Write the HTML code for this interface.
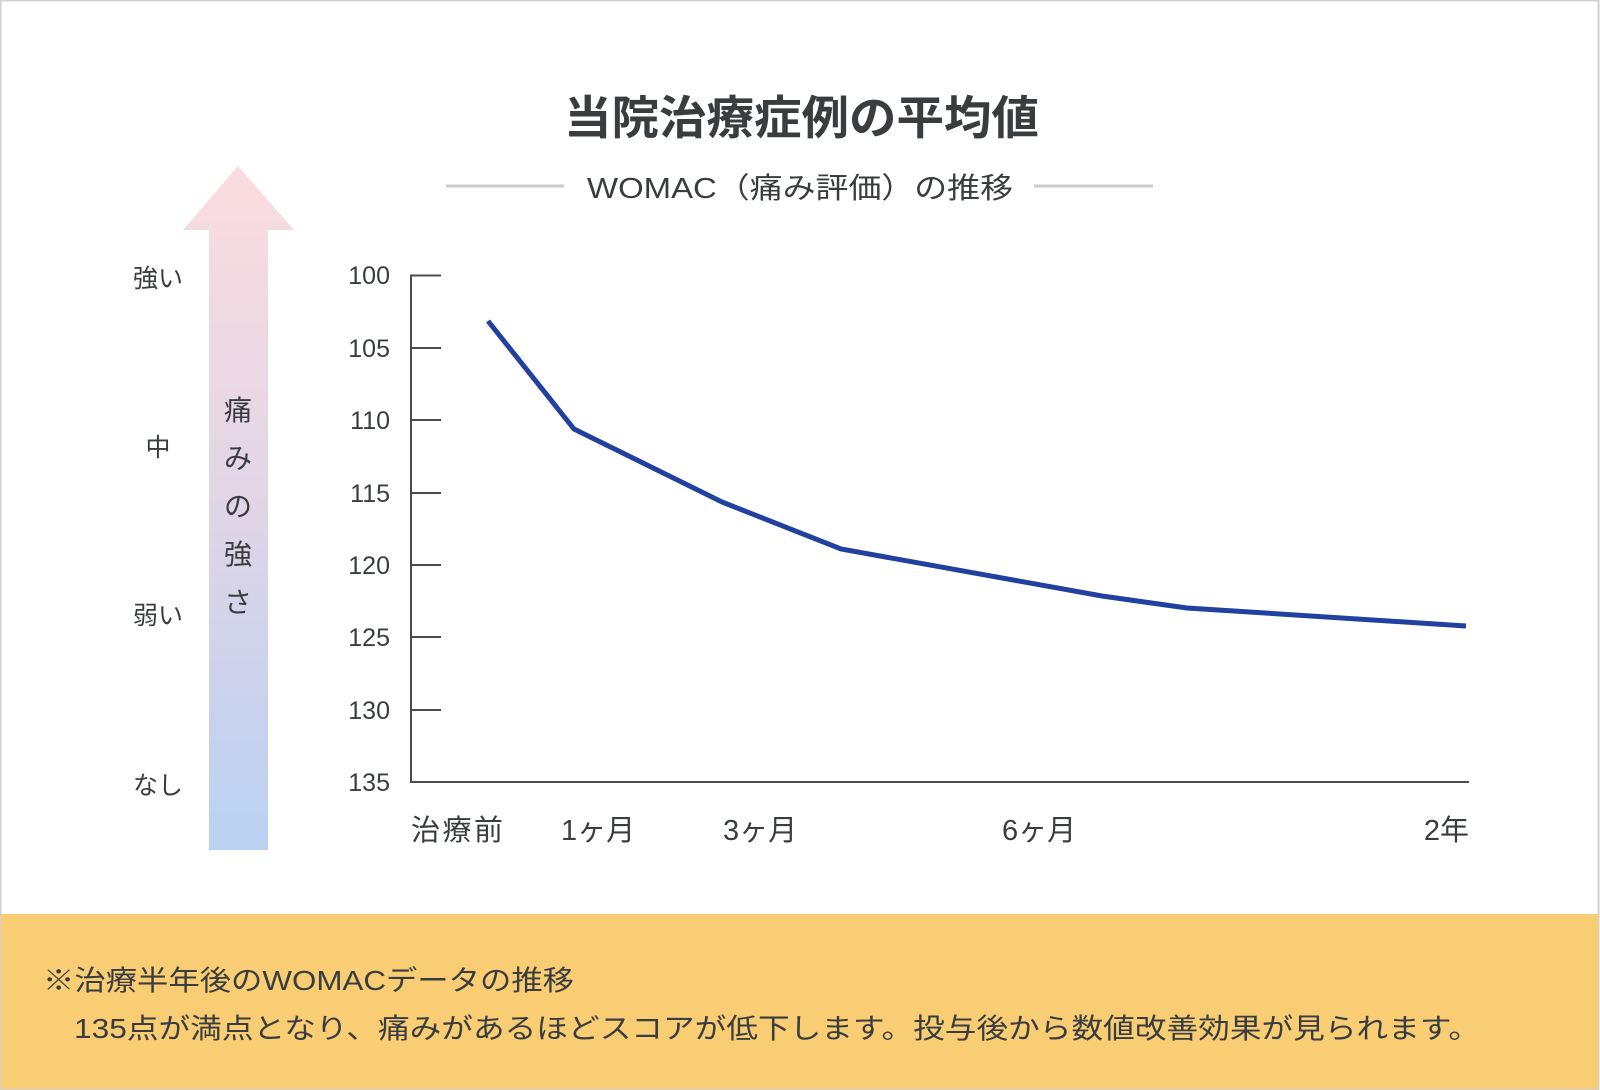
<!DOCTYPE html>
<html><head><meta charset="utf-8"><style>
html,body{margin:0;padding:0;width:1600px;height:1090px;overflow:hidden;background:#fff}
svg text{font-family:"Liberation Sans","Noto Sans CJK JP",sans-serif;fill:#3a3d40}
</style></head><body>
<svg width="1600" height="1090" viewBox="0 0 1600 1090" xmlns="http://www.w3.org/2000/svg">
<defs><linearGradient id="g" x1="0" y1="0" x2="0" y2="1">
<stop offset="0" stop-color="#fbdde0"/><stop offset="0.5" stop-color="#e0d5e6"/><stop offset="1" stop-color="#b9d1f3"/></linearGradient></defs>
<rect x="0.5" y="0.5" width="1598" height="1089" fill="#fff" stroke="#d0d0d0" stroke-width="2"/>
<rect x="1" y="914" width="1597" height="175" fill="#f9cd74"/>
<text x="564" y="134" font-size="46" font-weight="bold" textLength="475" lengthAdjust="spacingAndGlyphs">当院治療症例の平均値</text>
<line x1="446" y1="186" x2="564" y2="186" stroke="#ccc" stroke-width="3"/>
<line x1="1034" y1="186" x2="1153" y2="186" stroke="#ccc" stroke-width="3"/>
<text x="587" y="198" font-size="29" textLength="426" lengthAdjust="spacingAndGlyphs">WOMAC（痛み評価）の推移</text>
<path d="M238 166 L294 230 L268 230 L268 850 L209 850 L209 230 L183 230 Z" fill="url(#g)"/>
<g font-size="28" text-anchor="middle">
<text x="238" y="420">痛</text><text x="238" y="468">み</text><text x="238" y="516">の</text><text x="238" y="564">強</text><text x="238" y="612">さ</text></g>
<g font-size="25" text-anchor="middle">
<text x="158" y="287">強い</text><text x="158" y="456">中</text><text x="158" y="624">弱い</text><text x="158" y="794">なし</text></g>
<g stroke="#4a4d50" stroke-width="2" fill="none">
<path d="M441 275.5 H411 V782 H1469"/>
<path d="M411 348 H441 M411 420 H441 M411 493 H441 M411 565 H441 M411 637 H441 M411 710 H441"/></g>
<g font-size="25" text-anchor="end" style="font-weight:300">
<text x="390" y="284">100</text><text x="390" y="357">105</text><text x="390" y="429">110</text><text x="390" y="502">115</text><text x="390" y="574">120</text><text x="390" y="646">125</text><text x="390" y="719">130</text><text x="390" y="791">135</text></g>
<polyline points="488,321 574,429 722,502 841,549 1102,596 1187,608 1466,626" fill="none" stroke="#2140a0" stroke-width="5"/>
<g font-size="29">
<text x="411" y="840" textLength="92">治療前</text><text x="561" y="840">1ヶ月</text><text x="723" y="840">3ヶ月</text><text x="1002" y="840">6ヶ月</text><text x="1469" y="840" text-anchor="end">2年</text></g>
<g font-size="28">
<text x="43" y="990" textLength="531" lengthAdjust="spacingAndGlyphs">※治療半年後のWOMACデータの推移</text>
<text x="74" y="1038" textLength="1406" lengthAdjust="spacingAndGlyphs">135点が満点となり、痛みがあるほどスコアが低下します。投与後から数値改善効果が見られます。</text></g>
</svg>
</body></html>
